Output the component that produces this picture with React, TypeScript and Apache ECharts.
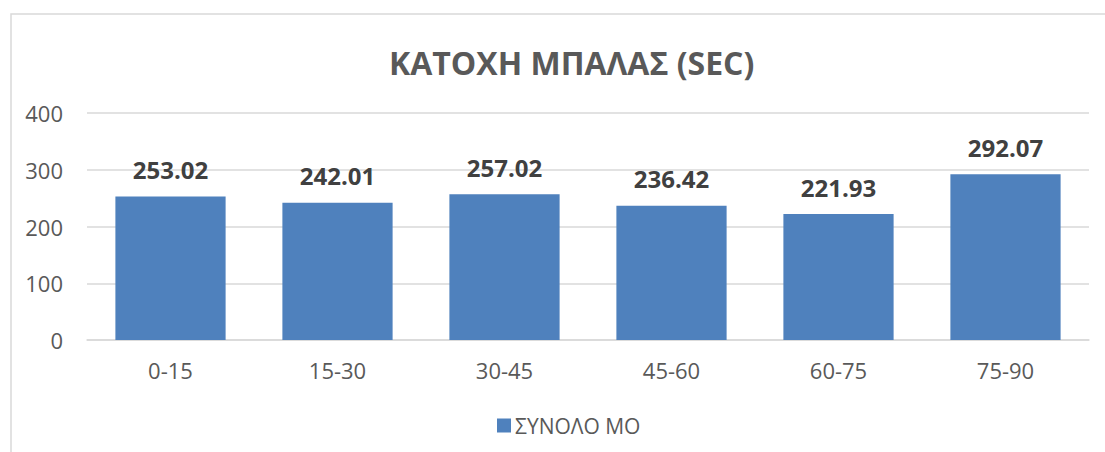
import React, { useEffect, useRef } from "react";
import * as echarts from "echarts";

const categories = ["0-15", "15-30", "30-45", "45-60", "60-75", "75-90"];
const values = [253.02, 242.01, 257.02, 236.42, 221.93, 292.07];
const seriesName = "ΣΥΝΟΛΟ ΜΟ";
const titleText = "ΚΑΤΟΧΗ ΜΠΑΛΑΣ (SEC)";

const FONT = "'Open Sans', 'Noto Sans', sans-serif";

export default function App() {
  const ref = useRef<HTMLDivElement>(null);
  useEffect(() => {
    if (!ref.current) return;
    const chart = echarts.init(ref.current, undefined, { renderer: "svg" });
    chart.setOption({
      animation: false,
      backgroundColor: "#ffffff",
      title: {
        text: titleText,
        left: 384,
        top: 41,
        textStyle: { fontFamily: FONT, fontSize: 32, fontWeight: "bold", color: "#595959" },
      },
      graphic: [
        {
          type: "rect",
          shape: { x: 11, y: 14, width: 1110, height: 460 },
          style: { fill: "none", stroke: "#d9d9d9", lineWidth: 1.5 },
          silent: true,
        },
      ],
      legend: {
        top: 410,
        left: 492,
        itemWidth: 14,
        itemHeight: 14,
        itemGap: 10,
        icon: "rect",
        textStyle: { fontFamily: FONT, fontSize: 21, color: "#595959", padding: [0, 0, 0, -1] },
        data: [seriesName],
      },
      grid: { left: 87, right: 16, top: 113, bottom: 112 },
      xAxis: {
        type: "category",
        data: categories,
        axisLine: { lineStyle: { color: "#d9d9d9", width: 1.5 } },
        axisTick: { show: false },
        axisLabel: { fontFamily: FONT, fontSize: 22, color: "#595959", margin: 19 },
      },
      yAxis: {
        type: "value",
        min: 0,
        max: 400,
        interval: 100,
        axisLine: { show: false },
        axisTick: { show: false },
        splitLine: { lineStyle: { color: "#d9d9d9", width: 1.5 } },
        axisLabel: { fontFamily: FONT, fontSize: 22, color: "#595959", margin: 24 },
      },
      series: [
        {
          name: seriesName,
          type: "bar",
          data: values,
          barWidth: "66%",
          itemStyle: { color: "#4f81bd" },
          label: {
            show: true,
            position: "top",
            distance: 15,
            fontFamily: FONT,
            fontSize: 24,
            fontWeight: "bold",
            color: "#404040",
            formatter: (p: any) => p.value.toFixed(2),
          },
        },
      ],
    });
    return () => chart.dispose();
  }, []);
  return (
    <div
      ref={ref}
      style={{ position: "fixed", left: 0, top: 0, width: 1105, height: 452 }}
    />
  );
}
